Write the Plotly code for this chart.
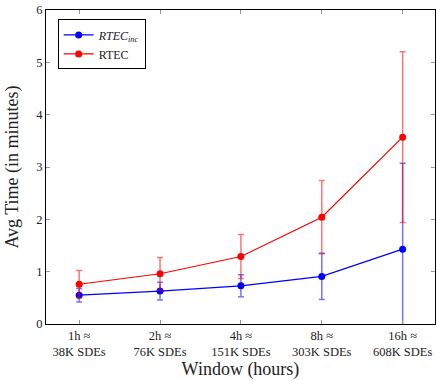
import plotly.graph_objects as go

windows = ['1h \u2248<br>38K SDEs', '2h \u2248<br>76K SDEs', '4h \u2248<br>151K SDEs',
           '8h \u2248<br>303K SDEs', '16h \u2248<br>608K SDEs']
rtec_inc = [0.55, 0.63, 0.73, 0.91, 1.43]
rtec_inc_err = [0.13, 0.17, 0.21, 0.44, 1.64]
rtec = [0.76, 0.96, 1.29, 2.04, 3.57]
rtec_err = [0.26, 0.31, 0.42, 0.70, 1.63]

FONT = 'Liberation Serif'
xs = list(range(len(windows)))

fig = go.Figure()
fig.add_trace(go.Scatter(
    x=xs, y=rtec_inc, mode='lines+markers', name='<i>RTEC</i><sub><i>inc</i></sub>',
    line=dict(color='blue', width=1.2), marker=dict(color='blue', size=7),
    error_y=dict(type='data', array=rtec_inc_err, color='rgba(0,0,255,0.55)',
                 thickness=1.5, width=3)))
fig.add_trace(go.Scatter(
    x=xs, y=rtec, mode='lines+markers', name='RTEC',
    line=dict(color='red', width=1.2), marker=dict(color='red', size=7),
    error_y=dict(type='data', array=rtec_err, color='rgba(255,0,0,0.55)',
                 thickness=1.5, width=3)))

fig.update_xaxes(range=[-0.41, 4.4], tickvals=xs, ticktext=windows,
                 ticks='inside', ticklen=4, tickcolor='#999', mirror='ticks',
                 showline=True, linecolor='black', linewidth=1.2, showgrid=False,
                 zeroline=False, tickfont=dict(family=FONT, size=12.5, color='#222'),
                 title=dict(text='Window (hours)', font=dict(family=FONT, size=18, color='#222'),
                            standoff=4))
fig.update_yaxes(range=[0, 6], dtick=1, ticks='inside', ticklen=4, tickcolor='#999',
                 mirror='ticks', showline=True, linecolor='black', linewidth=1.2,
                 showgrid=False, zeroline=False,
                 tickfont=dict(family=FONT, size=12.5, color='#222'),
                 title=dict(text='Avg Time (in minutes)',
                            font=dict(family=FONT, size=18, color='#222'), standoff=12))
fig.update_layout(
    width=437, height=380, template='simple_white',
    margin=dict(l=46, r=2, t=10, b=56),
    plot_bgcolor='white', paper_bgcolor='white',
    legend=dict(x=0.03, y=0.97, xanchor='left', yanchor='top',
                bgcolor='white', bordercolor='black', borderwidth=1,
                font=dict(family=FONT, size=12, color='#222'),
                tracegroupgap=0, itemwidth=30),
)
fig.write_html('out.html', config={'displayModeBar': False},
               post_script="document.body.style.margin='0';")
